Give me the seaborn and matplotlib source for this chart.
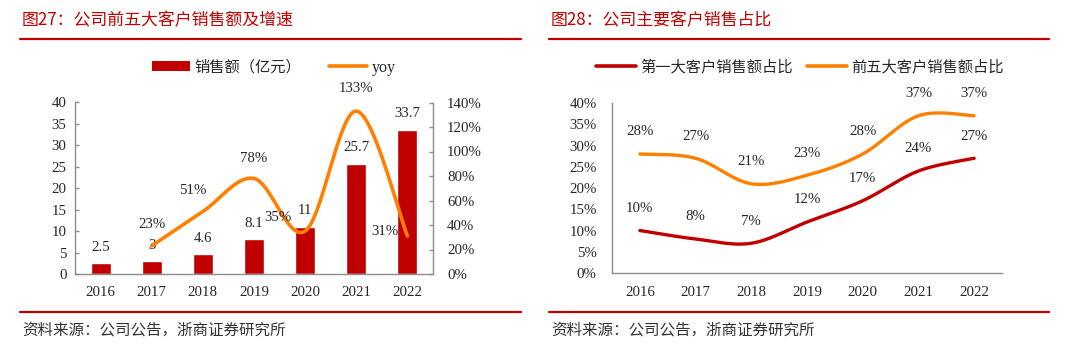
import numpy as np
import matplotlib
matplotlib.use("Agg")
import matplotlib.pyplot as plt
import seaborn as sns
from matplotlib.lines import Line2D
from matplotlib.patches import Patch
from matplotlib.ticker import FixedLocator, FuncFormatter

# ---------------- data ----------------
years = ["2016", "2017", "2018", "2019", "2020", "2021", "2022"]
sales = [2.5, 3, 4.6, 8.1, 11, 25.7, 33.7]
sales_labels = ["2.5", "3", "4.6", "8.1", "11", "25.7", "33.7"]
yoy_years = ["2017", "2018", "2019", "2020", "2021", "2022"]
yoy = [23, 51, 78, 35, 133, 31]
top1_share = [10, 8, 7, 12, 17, 24, 27]
top5_share = [28, 27, 21, 23, 28, 37, 37]

left_title = "图27：公司前五大客户销售额及增速"
right_title = "图28：公司主要客户销售占比"
source_text = "资料来源：公司公告，浙商证券研究所"
left_legend = ["销售额（亿元）", "yoy"]
right_legend = ["第一大客户销售额占比", "前五大客户销售额占比"]

RED = "#C00000"
ORANGE = "#FF8000"
SPINE = "#8C8C8C"
TXT = "#262626"
CJK = ["Noto Sans CJK SC", "DejaVu Sans"]
SERIF = ["Liberation Serif", "DejaVu Serif"]


def smooth(xs, ys, n=40):
    """Excel-style smoothed line (Bezier through the data points)."""
    P = np.column_stack([xs, ys]).astype(float)
    m = len(P)
    out = []
    for i in range(m - 1):
        p0 = P[i - 1] if i > 0 else P[i]
        p1, p2 = P[i], P[i + 1]
        p3 = P[i + 2] if i + 2 < m else P[i + 1]
        c1 = p1 + (p2 - p0) / 6
        c2 = p2 - (p3 - p1) / 6
        t = np.linspace(0, 1, n, endpoint=(i == m - 2))[:, None]
        seg = (1 - t) ** 3 * p1 + 3 * (1 - t) ** 2 * t * c1 + 3 * (1 - t) * t ** 2 * c2 + t ** 3 * p2
        out.append(seg)
    arr = np.vstack(out)
    return arr[:, 0], arr[:, 1]


sns.set_theme(style="white")
plt.rcParams["font.family"] = SERIF
plt.rcParams["axes.unicode_minus"] = False

W, H = 1080, 349
fig = plt.figure(figsize=(W / 100, H / 100), dpi=100)
fig.patch.set_facecolor("white")


def fx(px):
    return px / W


def fy(py):
    return 1 - py / H


FS = 10.7

# ---------------- left chart ----------------
axL = fig.add_axes([fx(75), fy(274), fx(433) - fx(75), fy(102.5) - fy(274)])
sns.barplot(x=years, y=sales, color=RED, saturation=1, width=0.39, errorbar=None, ax=axL)
axL.set_xlim(-0.5, 6.5)
axL.set_ylim(0, 40)
axL.yaxis.set_major_locator(FixedLocator(np.arange(0, 41, 5)))
axL.set_xlabel("")
axL.set_ylabel("")
for s in ["top", "right"]:
    axL.spines[s].set_visible(False)
for s in ["left", "bottom"]:
    axL.spines[s].set_color(SPINE)
    axL.spines[s].set_linewidth(1)
axL.tick_params(axis="y", direction="in", length=3, width=1, color=SPINE, pad=6, labelsize=FS, labelcolor=TXT)
axL.tick_params(axis="x", length=0, pad=9, labelsize=FS, labelcolor=TXT)
for i, (v, lab) in enumerate(zip(sales, sales_labels)):
    axL.annotate(lab, (i, v), xytext=(0, 11.5), textcoords="offset points",
                 ha="center", va="center", fontsize=FS, color=TXT)

axR2 = axL.twinx()
yoy_x = [years.index(y) for y in yoy_years]
sx, sy = smooth(yoy_x, yoy)
sns.lineplot(x=sx, y=sy, color=ORANGE, lw=2.6, sort=False, estimator=None, ax=axR2)
axR2.set_ylim(0, 140)
axR2.yaxis.set_major_locator(FixedLocator(np.arange(0, 141, 20)))
axR2.yaxis.set_major_formatter(FuncFormatter(lambda v, p: f"{v:.0f}%"))
axR2.set_ylabel("")
for s in ["top", "left", "bottom"]:
    axR2.spines[s].set_visible(False)
axR2.spines["right"].set_color(SPINE)
axR2.spines["right"].set_linewidth(1)
axR2.tick_params(axis="y", direction="in", length=3, width=1, color=SPINE, pad=10, labelsize=FS, labelcolor=TXT)
yoy_off = [(0, 15), (-7, 15), (0, 14.5), (-19.5, 9.5), (0, 16), (-16, 3)]
for xi, v, off in zip(yoy_x, yoy, yoy_off):
    axR2.annotate(f"{v}%", (xi, v), xytext=off, textcoords="offset points",
                  ha="center", va="center", fontsize=FS, color=TXT)

legL = fig.legend(handles=[Patch(facecolor=RED, edgecolor="none"), Line2D([0], [0], color=ORANGE, lw=2.6)],
                  labels=left_legend, loc="center", bbox_to_anchor=(fx(273.5), fy(67)), ncol=2,
                  frameon=False, handlelength=2.5, handleheight=0.55, handletextpad=0.3,
                  columnspacing=1.8, prop={"family": CJK, "size": 11})
for t in legL.get_texts():
    t.set_color(TXT)
legL.get_texts()[1].set_family(SERIF)
legL.get_texts()[1].set_fontsize(11.5)

# ---------------- right chart ----------------
axB = fig.add_axes([fx(612), fy(273), fx(1002) - fx(612), fy(103) - fy(273)])
xs = np.arange(len(years))
s1x, s1y = smooth(xs, top1_share)
s5x, s5y = smooth(xs, top5_share)
sns.lineplot(x=s1x, y=s1y, color=RED, lw=2.4, sort=False, estimator=None, ax=axB)
sns.lineplot(x=s5x, y=s5y, color=ORANGE, lw=2.4, sort=False, estimator=None, ax=axB)
axB.set_xlim(-0.5, 6.5)
axB.set_ylim(0, 40)
axB.yaxis.set_major_locator(FixedLocator(np.arange(0, 41, 5)))
axB.yaxis.set_major_formatter(FuncFormatter(lambda v, p: f"{v:.0f}%"))
axB.xaxis.set_major_locator(FixedLocator(xs))
axB.set_xticklabels(years)
axB.xaxis.set_minor_locator(FixedLocator(np.arange(0.5, 6.6, 1)))
for s in ["top", "right"]:
    axB.spines[s].set_visible(False)
for s in ["left", "bottom"]:
    axB.spines[s].set_color(SPINE)
    axB.spines[s].set_linewidth(1)
axB.tick_params(axis="y", direction="out", length=3, width=1, color=SPINE, pad=8, labelsize=FS, labelcolor=TXT)
axB.tick_params(axis="x", which="major", length=0, pad=9, labelsize=FS, labelcolor=TXT)
axB.tick_params(axis="x", which="minor", direction="in", length=4, width=1, color=SPINE)
for i in range(len(years)):
    axB.annotate(f"{top1_share[i]}%", (i, top1_share[i]), xytext=(0, 16), textcoords="offset points",
                 ha="center", va="center", fontsize=FS, color=TXT)
    axB.annotate(f"{top5_share[i]}%", (i, top5_share[i]), xytext=(0, 16), textcoords="offset points",
                 ha="center", va="center", fontsize=FS, color=TXT)

legR = fig.legend(handles=[Line2D([0], [0], color=RED, lw=2.6), Line2D([0], [0], color=ORANGE, lw=2.6)],
                  labels=right_legend, loc="center", bbox_to_anchor=(fx(800), fy(67)), ncol=2,
                  frameon=False, handlelength=2.6, handletextpad=0.3,
                  columnspacing=0.9, prop={"family": CJK, "size": 11})
for t in legR.get_texts():
    t.set_color(TXT)

# ---------------- titles, rules, sources ----------------
for x0, x1, title in [(20, 521, left_title), (549, 1049, right_title)]:
    fig.text(fx(x0 + 2), fy(20), title, color=RED, fontsize=12.2, family=CJK, va="center", ha="left")
    fig.add_artist(Line2D([fx(x0), fx(x1)], [fy(39.3), fy(39.3)], color=RED, lw=1.6))
    fig.add_artist(Line2D([fx(x0), fx(x1)], [fy(312.3), fy(312.3)], color=RED, lw=1.6))
    fig.text(fx(x0 + 2), fy(330), source_text, color="#333333", fontsize=11.2, family=CJK, va="center", ha="left")

fig.savefig("out.png", dpi=100, facecolor="white")
